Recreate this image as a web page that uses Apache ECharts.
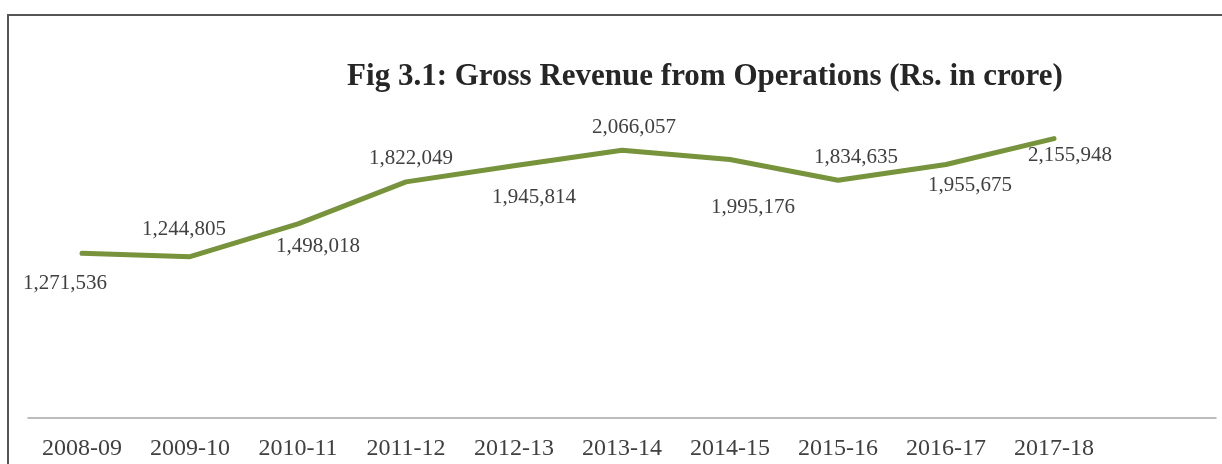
<!DOCTYPE html>
<html>
<head>
<meta charset="utf-8">
<script src="https://cdn.jsdelivr.net/npm/echarts@6/dist/echarts.min.js"></script>
<style>
  html, body { margin: 0; padding: 0; background: #ffffff; }
  #main { width: 1222px; height: 464px; position: relative; overflow: hidden; }
  #chart { width: 1222px; height: 464px; }
  /* outer frame of the figure, runs off the right and bottom edges */
  #frame {
    position: absolute; left: 7px; top: 14px;
    width: 1400px; height: 600px;
    border: 2px solid #555555;
    pointer-events: none;
  }
</style>
</head>
<body>
<div id="main">
  <div id="chart"></div>
  <div id="frame"></div>
</div>
<script>
var titleText = 'Fig 3.1: Gross Revenue from Operations (Rs. in crore)';
var years = ['2008-09', '2009-10', '2010-11', '2011-12', '2012-13',
             '2013-14', '2014-15', '2015-16', '2016-17', '2017-18'];
var revenue = [1271536, 1244805, 1498018, 1822049, 1945814,
               2066057, 1995176, 1834635, 1955675, 2155948];

// where each data label sits relative to its point (like the excel layout)
var labelOffsets = [[-17, 30], [-6, -27], [20, 23], [5, -23], [20, 32],
                    [12, -23], [23, 48], [18, -23], [24, 21], [16, 17]];

function fmt(v) {
  return v.toString().replace(/\B(?=(\d{3})+(?!\d))/g, ',');
}

var serif = '"Liberation Serif", "DejaVu Serif", serif';

var chart = echarts.init(document.getElementById('chart'));

var seriesData = revenue.map(function (v, i) {
  return {
    value: v,
    label: { offset: labelOffsets[i] }
  };
});

chart.setOption({
  animation: false,
  title: {
    text: titleText,
    left: 700,
    top: 56,
    textAlign: 'center',
    textStyle: {
      fontFamily: serif,
      fontSize: 31,
      fontWeight: 'bold',
      color: '#262626'
    }
  },
  grid: [
    { left: 28, width: 1080, top: 94, bottom: 46 },
    { left: 28, right: 6, top: 94, bottom: 46 }
  ],
  xAxis: [
    {
      type: 'category',
      gridIndex: 0,
      data: years,
      boundaryGap: true,
      axisLine: { show: false },
      axisTick: { show: false },
      axisLabel: {
        margin: 19,
        fontFamily: serif,
        fontSize: 24,
        color: '#404040'
      }
    },
    {
      // only the long baseline, it runs past the last category
      type: 'value',
      gridIndex: 1,
      min: 0,
      max: 1,
      axisLine: { show: true, lineStyle: { color: '#a6a6a6', width: 1.5 } },
      axisTick: { show: false },
      axisLabel: { show: false },
      splitLine: { show: false }
    }
  ],
  yAxis: [
    { type: 'value', gridIndex: 0, min: 0, max: 2500000, show: false },
    { type: 'value', gridIndex: 1, min: 0, max: 1, show: false }
  ],
  series: [
    {
      type: 'line',
      xAxisIndex: 0,
      yAxisIndex: 0,
      data: seriesData,
      symbol: 'circle',
      symbolSize: 2,
      itemStyle: { color: 'transparent', borderWidth: 0 },
      lineStyle: { color: '#77933c', width: 5, cap: 'round', join: 'round' },
      label: {
        show: true,
        position: 'inside',
        align: 'center',
        verticalAlign: 'middle',
        formatter: function (p) { return fmt(p.value); },
        fontFamily: serif,
        fontSize: 21,
        color: '#404040'
      },
      emphasis: { disabled: true }
    }
  ]
});
</script>
</body>
</html>
